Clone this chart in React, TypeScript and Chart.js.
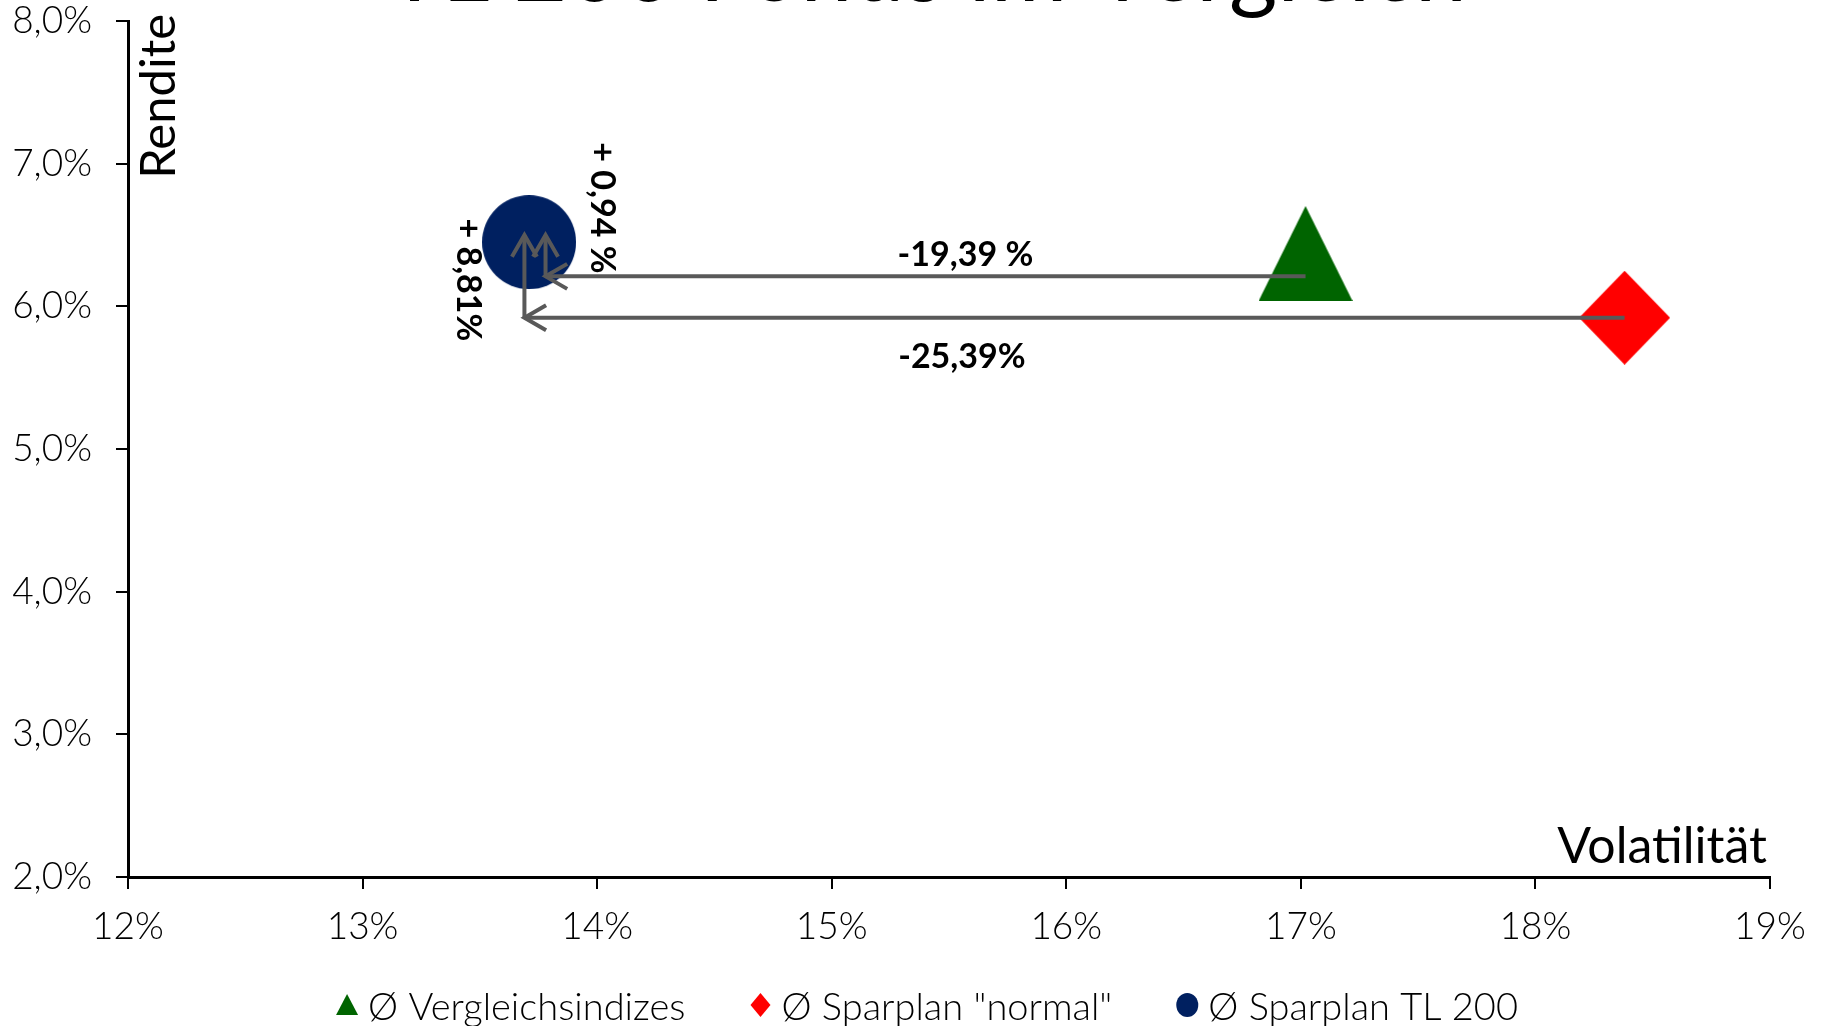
import React, { useEffect, useRef } from 'react';
import { Chart, registerables } from 'chart.js';

Chart.register(...registerables);

// ---------- data ----------
const chartTitle = 'TL 200 Fonds im Vergleich';
const xAxisTitle = 'Volatilität';
const yAxisTitle = 'Rendite';

const seriesLabels = ['Ø Vergleichsindizes', 'Ø Sparplan "normal"', 'Ø Sparplan TL 200'];
const seriesColors = ['#006400', '#FF0000', '#002060'];
const seriesShapes = ['triangle', 'diamond', 'circle'];
const volatility = [17.02, 18.38, 13.71]; // %
const returns = [6.37, 5.92, 6.45]; // %

const xMin = 12;
const xMax = 19;
const yMin = 2;
const yMax = 8;

// arrows (data coordinates, start -> tip)
const arrowStartX = [17.02, 18.38, 13.69, 13.78];
const arrowStartY = [6.21, 5.92, 5.92, 6.21];
const arrowEndX = [13.78, 13.69, 13.69, 13.78];
const arrowEndY = [6.21, 5.92, 6.5, 6.5];

// annotation labels (data coordinates of centre)
const noteTexts = ['-19,39 %', '-25,39%', '+ 8,81%', '+ 0,94 %'];
const noteX = [15.57, 15.555, 13.45, 14.02];
const noteY = [6.357, 5.646, 6.185, 6.69];
const noteRotated = [false, false, true, true];

// ---------- styles ----------
const FONT = 'Lato';
const ARROW_COLOR = '#595959';

function makeMarker(shape: string, color: string, w: number, h: number): HTMLCanvasElement {
  const c = document.createElement('canvas');
  c.width = w;
  c.height = h;
  const g = c.getContext('2d')!;
  g.fillStyle = color;
  g.beginPath();
  if (shape === 'triangle') {
    g.moveTo(w / 2, 0);
    g.lineTo(w, h);
    g.lineTo(0, h);
    g.closePath();
  } else if (shape === 'diamond') {
    g.moveTo(w / 2, 0);
    g.lineTo(w, h / 2);
    g.lineTo(w / 2, h);
    g.lineTo(0, h / 2);
    g.closePath();
  } else {
    g.ellipse(w / 2, h / 2, w / 2, h / 2, 0, 0, Math.PI * 2);
  }
  g.fill();
  return c;
}

function drawLegendSymbol(ctx: CanvasRenderingContext2D, shape: string, color: string, cx: number, cy: number) {
  ctx.fillStyle = color;
  ctx.beginPath();
  if (shape === 'triangle') {
    ctx.moveTo(cx, cy - 11);
    ctx.lineTo(cx + 11, cy + 10);
    ctx.lineTo(cx - 11, cy + 10);
    ctx.closePath();
  } else if (shape === 'diamond') {
    ctx.moveTo(cx, cy - 12);
    ctx.lineTo(cx + 10, cy);
    ctx.lineTo(cx, cy + 12);
    ctx.lineTo(cx - 10, cy);
    ctx.closePath();
  } else {
    ctx.ellipse(cx, cy, 11, 12, 0, 0, Math.PI * 2);
  }
  ctx.fill();
}

const overlayPlugin = {
  id: 'overlay',
  afterDatasetsDraw(chart: any) {
    const { ctx, scales } = chart;
    const xs = scales.x;
    const ys = scales.y;
    ctx.save();
    ctx.strokeStyle = ARROW_COLOR;
    ctx.lineWidth = 4;
    ctx.lineCap = 'butt';
    ctx.lineJoin = 'miter';
    const headLen = 25;
    const headAng = (30 * Math.PI) / 180;
    for (let i = 0; i < arrowStartX.length; i++) {
      const x1 = xs.getPixelForValue(arrowStartX[i]);
      const y1 = ys.getPixelForValue(arrowStartY[i]);
      const x2 = xs.getPixelForValue(arrowEndX[i]);
      const y2 = ys.getPixelForValue(arrowEndY[i]);
      ctx.beginPath();
      ctx.moveTo(x1, y1);
      ctx.lineTo(x2, y2);
      ctx.stroke();
      const a = Math.atan2(y2 - y1, x2 - x1);
      ctx.beginPath();
      ctx.moveTo(x2 + headLen * Math.cos(a + Math.PI - headAng), y2 + headLen * Math.sin(a + Math.PI - headAng));
      ctx.lineTo(x2, y2);
      ctx.lineTo(x2 + headLen * Math.cos(a + Math.PI + headAng), y2 + headLen * Math.sin(a + Math.PI + headAng));
      ctx.stroke();
    }
    ctx.fillStyle = '#000';
    ctx.font = `bold 34px ${FONT}`;
    ctx.textAlign = 'center';
    ctx.textBaseline = 'middle';
    for (let i = 0; i < noteTexts.length; i++) {
      const px = xs.getPixelForValue(noteX[i]);
      const py = ys.getPixelForValue(noteY[i]);
      ctx.save();
      ctx.translate(px, py);
      if (noteRotated[i]) ctx.rotate(Math.PI / 2);
      ctx.fillText(noteTexts[i], 0, 0);
      ctx.restore();
    }
    ctx.restore();
  },
  afterDraw(chart: any) {
    const { ctx, chartArea } = chart;
    ctx.save();
    ctx.fillStyle = '#000';
    // title (partly cut at the top edge)
    ctx.font = `400 93px ${FONT}`;
    ctx.textAlign = 'center';
    ctx.textBaseline = 'alphabetic';
    ctx.fillText(chartTitle, 927, 1);

    // axis titles
    ctx.font = `400 49px ${FONT}`;
    ctx.save();
    ctx.translate(chartArea.left + 31, chartArea.top - 7);
    ctx.rotate(-Math.PI / 2);
    ctx.textAlign = 'right';
    ctx.textBaseline = 'middle';
    ctx.fillText(yAxisTitle, 0, 0);
    ctx.restore();

    ctx.font = `400 50px ${FONT}`;
    ctx.textAlign = 'right';
    ctx.textBaseline = 'alphabetic';
    ctx.fillText(xAxisTitle, chartArea.right - 3, chartArea.bottom - 14);

    // legend
    ctx.font = `300 38px ${FONT}`;
    const symW = 22;
    const gapSym = 10;
    const gapItem = 64;
    const widths = seriesLabels.map((t) => ctx.measureText(t).width);
    const total = widths.reduce((s, w) => s + symW + gapSym + w, 0) + gapItem * (seriesLabels.length - 1);
    let lx = 927 - total / 2;
    const ly = 1007;
    ctx.textAlign = 'left';
    ctx.textBaseline = 'middle';
    for (let i = 0; i < seriesLabels.length; i++) {
      drawLegendSymbol(ctx, seriesShapes[i], seriesColors[i], lx + symW / 2, ly - 2);
      ctx.fillStyle = '#000';
      ctx.fillText(seriesLabels[i], lx + symW + gapSym, ly + 1);
      lx += symW + gapSym + widths[i] + gapItem;
    }
    ctx.restore();
  },
};

export default function App() {
  const ref = useRef<HTMLCanvasElement | null>(null);
  useEffect(() => {
    if (!ref.current) return;
    const markerSizes: Record<string, [number, number]> = {
      triangle: [94, 95],
      diamond: [91, 94],
      circle: [94, 94],
    };
    const datasets = seriesLabels.map((label, i) => ({
      label,
      data: [{ x: volatility[i], y: returns[i] }],
      pointStyle: makeMarker(seriesShapes[i], seriesColors[i], markerSizes[seriesShapes[i]][0], markerSizes[seriesShapes[i]][1]),
      pointRadius: 47,
      backgroundColor: seriesColors[i],
      borderColor: seriesColors[i],
      showLine: false,
      clip: false as any,
    }));
    const tickFont = { family: FONT, size: 37, weight: 300 as any };
    const chart = new Chart(ref.current, {
      type: 'scatter',
      data: { datasets },
      options: {
        animation: false,
        responsive: false,
        devicePixelRatio: 1,
        layout: { autoPadding: false, padding: { top: 21, right: 56, left: 0, bottom: 0 } },
        plugins: {
          legend: { display: false },
          title: { display: false },
          tooltip: { enabled: false },
        },
        scales: {
          x: {
            type: 'linear',
            min: xMin,
            max: xMax,
            ticks: {
              stepSize: 1,
              color: '#000',
              font: tickFont,
              padding: 16,
              callback: (v: any) => `${v}%`,
            },
            grid: { display: true, drawOnChartArea: false, drawTicks: true, tickLength: 12, color: '#000', lineWidth: 2 },
            border: { display: true, color: '#000', width: 3 },
            afterFit: (s: any) => {
              s.height = 149;
            },
          },
          y: {
            type: 'linear',
            min: yMin,
            max: yMax,
            ticks: {
              stepSize: 1,
              color: '#000',
              font: tickFont,
              padding: 24,
              callback: (v: any) => `${Number(v).toFixed(1).replace('.', ',')}%`,
            },
            grid: { display: true, drawOnChartArea: false, drawTicks: true, tickLength: 12, color: '#000', lineWidth: 2 },
            border: { display: true, color: '#000', width: 3 },
            afterFit: (s: any) => {
              s.width = 128;
              s.paddingTop = 0;
              s.paddingBottom = 0;
            },
          },
        },
      },
      plugins: [overlayPlugin],
    });
    return () => chart.destroy();
  }, []);
  return (
    <div style={{ position: 'fixed', left: 0, top: 0, width: 1826, height: 1026, background: '#fff' }}>
      <canvas ref={ref} width={1826} height={1026} style={{ display: 'block', width: 1826, height: 1026 }} />
    </div>
  );
}
